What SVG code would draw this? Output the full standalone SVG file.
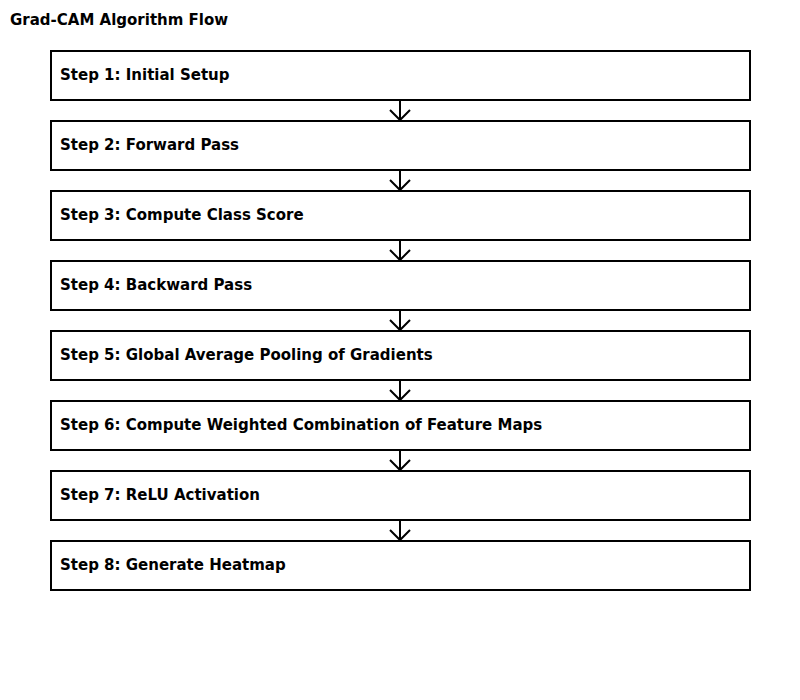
<svg xmlns="http://www.w3.org/2000/svg" width="800" height="700" viewBox="0 0 800 700">
<style>
.box{fill:#fff;stroke:#000;stroke-width:2}
.lbl{font-family:"DejaVu Sans",sans-serif;font-weight:bold;font-size:15px;fill:#000}
.title{font-family:"DejaVu Sans",sans-serif;font-weight:bold;font-size:15px;fill:#000}
.edge{stroke:#000;stroke-width:2;fill:none}
</style>
<rect width="800" height="700" fill="#fff"/>
<text class="title" x="10" y="25">Grad-CAM Algorithm Flow</text>
<g id="connectors">
<path class="edge" d="M400 100V120M390 110L400 120L410 110"/>
<path class="edge" d="M400 170V190M390 180L400 190L410 180"/>
<path class="edge" d="M400 240V260M390 250L400 260L410 250"/>
<path class="edge" d="M400 310V330M390 320L400 330L410 320"/>
<path class="edge" d="M400 380V400M390 390L400 400L410 390"/>
<path class="edge" d="M400 450V470M390 460L400 470L410 460"/>
<path class="edge" d="M400 520V540M390 530L400 540L410 530"/>
</g>
<g id="step1"><rect class="box" x="51" y="51" width="699" height="49"/><text class="lbl" x="60" y="80">Step 1: Initial Setup</text></g>
<g id="step2"><rect class="box" x="51" y="121" width="699" height="49"/><text class="lbl" x="60" y="150">Step 2: Forward Pass</text></g>
<g id="step3"><rect class="box" x="51" y="191" width="699" height="49"/><text class="lbl" x="60" y="220">Step 3: Compute Class Score</text></g>
<g id="step4"><rect class="box" x="51" y="261" width="699" height="49"/><text class="lbl" x="60" y="290">Step 4: Backward Pass</text></g>
<g id="step5"><rect class="box" x="51" y="331" width="699" height="49"/><text class="lbl" x="60" y="360">Step 5: Global Average Pooling of Gradients</text></g>
<g id="step6"><rect class="box" x="51" y="401" width="699" height="49"/><text class="lbl" x="60" y="430">Step 6: Compute Weighted Combination of Feature Maps</text></g>
<g id="step7"><rect class="box" x="51" y="471" width="699" height="49"/><text class="lbl" x="60" y="500">Step 7: ReLU Activation</text></g>
<g id="step8"><rect class="box" x="51" y="541" width="699" height="49"/><text class="lbl" x="60" y="570">Step 8: Generate Heatmap</text></g>
</svg>
